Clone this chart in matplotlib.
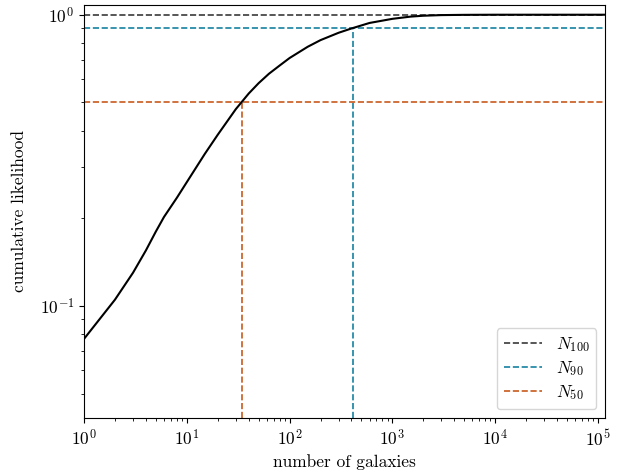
import numpy as np
import matplotlib
matplotlib.use('Agg')
import matplotlib.pyplot as plt

plt.rcParams['font.family'] = 'serif'
plt.rcParams['font.serif'] = ['cmr10']
plt.rcParams['mathtext.fontset'] = 'cm'
plt.rcParams['axes.formatter.use_mathtext'] = True
plt.rcParams['font.size'] = 12.5

# cumulative likelihood vs number of galaxies
n_gal = [1, 2, 3, 4, 5, 6, 8, 10, 15, 20, 30, 40, 50, 63, 80, 100, 150,
         200, 300, 400, 600, 1000, 1500, 2000, 3000, 5000, 10000, 120000]
cum_like = [0.077, 0.105, 0.13, 0.155, 0.18, 0.202, 0.235, 0.266, 0.333,
            0.387, 0.474, 0.536, 0.582, 0.627, 0.669, 0.710, 0.776, 0.818,
            0.867, 0.897, 0.937, 0.968, 0.985, 0.992, 0.997, 0.999, 1.0, 1.0]

levels = [1.0, 0.9, 0.5]
n_levels = [None, 414, 34.4]
level_labels = [r'$N_{100}$', r'$N_{90}$', r'$N_{50}$']
level_colors = ['#3a3a3a', '#16819f', '#c85a1e']

fig = plt.figure(figsize=(6.33, 4.75), dpi=100)
ax = fig.add_axes([0.1327, 0.12, 0.823, 0.8695])

ymin, ymax = 0.0412, 1.08
for lev, nl, lab, c in zip(levels, n_levels, level_labels, level_colors):
    ax.axhline(lev, color=c, ls='--', lw=1.2, label=lab)
    if nl is not None:
        ax.plot([nl, nl], [ymin, lev], color=c, ls='--', lw=1.2)

ax.plot(n_gal, cum_like, color='k', lw=1.5)

ax.set_xscale('log')
ax.set_yscale('log')
ax.set_xlim(1, 1.17e5)
ax.set_ylim(ymin, ymax)
ax.set_xlabel('number of galaxies')
ax.set_ylabel('cumulative likelihood', labelpad=9)
ax.legend(loc='lower right', handlelength=2.2, labelspacing=0.3)

fig.savefig('out.png', dpi=100)
